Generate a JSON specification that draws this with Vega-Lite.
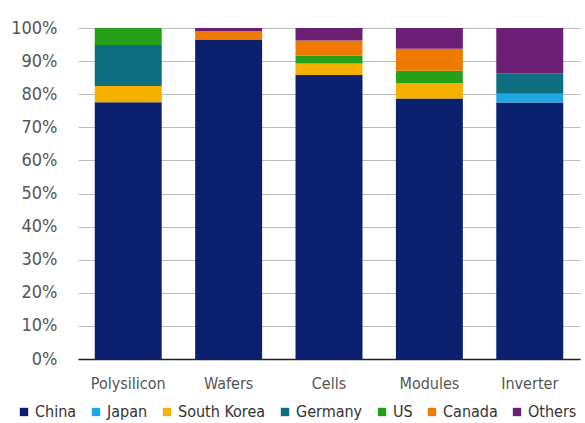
{
  "$schema": "https://vega.github.io/schema/vega-lite/v6.json",
  "width": 502,
  "height": 331,
  "autosize": {"type": "none"},
  "padding": {"left": 78, "top": 28, "right": 5, "bottom": 64},
  "background": "white",
  "config": {
    "font": "DejaVu Sans Condensed, sans-serif",
    "view": {"stroke": null}
  },
  "data": {
    "values": [
      {"segment": "Polysilicon", "country": "China", "share": 77.6},
      {"segment": "Polysilicon", "country": "South Korea", "share": 4.9},
      {"segment": "Polysilicon", "country": "Germany", "share": 12.4},
      {"segment": "Polysilicon", "country": "US", "share": 5.1},
      {"segment": "Wafers", "country": "China", "share": 96.5},
      {"segment": "Wafers", "country": "Canada", "share": 2.6},
      {"segment": "Wafers", "country": "Others", "share": 0.9},
      {"segment": "Cells", "country": "China", "share": 85.8},
      {"segment": "Cells", "country": "South Korea", "share": 3.5},
      {"segment": "Cells", "country": "US", "share": 2.3},
      {"segment": "Cells", "country": "Canada", "share": 4.6},
      {"segment": "Cells", "country": "Others", "share": 3.8},
      {"segment": "Modules", "country": "China", "share": 78.7},
      {"segment": "Modules", "country": "South Korea", "share": 4.6},
      {"segment": "Modules", "country": "US", "share": 3.8},
      {"segment": "Modules", "country": "Canada", "share": 6.6},
      {"segment": "Modules", "country": "Others", "share": 6.3},
      {"segment": "Inverter", "country": "China", "share": 77.5},
      {"segment": "Inverter", "country": "Japan", "share": 2.6},
      {"segment": "Inverter", "country": "Germany", "share": 6.2},
      {"segment": "Inverter", "country": "Others", "share": 13.7}
    ]
  },
  "transform": [
    {"calculate": "indexof(['China', 'Japan', 'South Korea', 'Germany', 'US', 'Canada', 'Others'], datum.country)", "as": "stackRank"}
  ],
  "mark": {"type": "bar"},
  "encoding": {
    "x": {
      "field": "segment",
      "type": "nominal",
      "sort": ["Polysilicon", "Wafers", "Cells", "Modules", "Inverter"],
      "scale": {"paddingInner": 0.333, "paddingOuter": 0.167},
      "axis": {
        "title": null,
        "labelAngle": 0,
        "labelFontSize": 16,
        "labelColor": "#555555",
        "labelPadding": 16,
        "ticks": false,
        "domainColor": "#222222",
        "domainWidth": 1.5,
        "grid": false
      }
    },
    "y": {
      "field": "share",
      "type": "quantitative",
      "stack": "zero",
      "scale": {"domain": [0, 100], "nice": false},
      "axis": {
        "title": null,
        "values": [0, 10, 20, 30, 40, 50, 60, 70, 80, 90, 100],
        "labelExpr": "datum.value + '%'",
        "labelFontSize": 18,
        "labelColor": "#555555",
        "labelPadding": 21,
        "ticks": false,
        "domain": false,
        "grid": true,
        "gridColor": "#bdbdbd",
        "gridWidth": 1
      }
    },
    "color": {
      "field": "country",
      "type": "nominal",
      "sort": ["China", "Japan", "South Korea", "Germany", "US", "Canada", "Others"],
      "scale": {
        "domain": ["China", "Japan", "South Korea", "Germany", "US", "Canada", "Others"],
        "range": ["#0b2170", "#1fa7e5", "#f5b000", "#0f6d80", "#25a01b", "#f07a00", "#6b2076"]
      },
      "legend": {
        "title": null,
        "orient": "none",
        "legendX": -62,
        "legendY": 376,
        "direction": "horizontal",
        "symbolType": "square",
        "symbolSize": 70,
        "symbolStrokeWidth": 0,
        "labelFontSize": 16,
        "labelColor": "#333333",
        "labelOffset": 3,
        "columnPadding": 11
      }
    },
    "order": {"field": "stackRank", "type": "quantitative", "sort": "ascending"}
  }
}
